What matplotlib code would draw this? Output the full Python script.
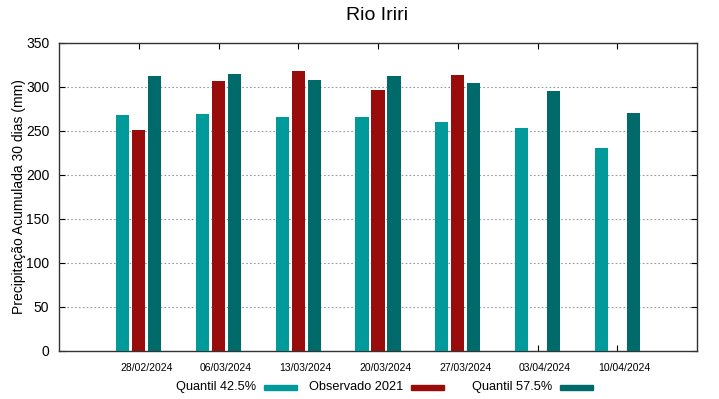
import matplotlib
matplotlib.use('Agg')
import matplotlib.pyplot as plt
from matplotlib.patches import Rectangle
import numpy as np

plt.rcParams['font.family'] = ['Liberation Sans', 'DejaVu Sans']

datas = ['28/02/2024', '06/03/2024', '13/03/2024', '20/03/2024',
         '27/03/2024', '03/04/2024', '10/04/2024']
q425 = [268, 269, 266, 266, 260, 253, 230]
obs2021 = [251, 307, 318, 297, 314, np.nan, np.nan]
q575 = [313, 315, 308, 313, 305, 295, 270]

labels = ['Quantil 42.5%', 'Observado 2021', 'Quantil 57.5%']
cores = ['#009a9a', '#990c0c', '#006a6a']

fig = plt.figure(figsize=(7.19, 3.99), dpi=100)
ax = fig.add_axes([59/719, 1 - 350.5/399, 638/719, 307.5/399])

x = np.arange(1, len(datas) + 1)
w = 0.165
for serie, off, cor in zip([q425, obs2021, q575], [-0.2, 0, 0.2], cores):
    ax.bar(x + off, serie, width=w, color=cor, zorder=3)

ax.set_xlim(0, 8)
ax.set_ylim(0, 350)
ax.set_yticks(np.arange(0, 351, 50))
# ticks nos centros dos grupos, rótulos um pouco à direita (como no gnuplot)
ax.set_xticks(x)
ax.set_xticklabels([])
ax.set_xticks(x + 0.094, minor=True)
ax.set_xticklabels(datas, minor=True, fontsize=7.5)
ax.tick_params(axis='x', which='minor', length=0, pad=9)
ax.tick_params(axis='y', labelsize=10, direction='in', length=4, right=True, pad=7)
ax.tick_params(axis='x', which='major', direction='in', length=4, top=True)
ax.grid(True, axis='y', linestyle=(0, (1.5, 2)), color='#999999', linewidth=0.8, zorder=0)
for s in ax.spines.values():
    s.set_linewidth(1.0)
    s.set_color('#333333')

ax.set_ylabel('Precipitação Acumulada 30 dias (mm)', fontsize=10, labelpad=0)
fig.text(377/719, 1 - 15/399, 'Rio Iriri', fontsize=14, ha='center', va='center')

# legenda manual (estilo gnuplot)
txt_right = [256, 403, 552]
for lab, cor, xr in zip(labels, cores, txt_right):
    fig.text(xr/719, 1 - 387/399, lab, fontsize=9.2, ha='right', va='center')
    fig.patches.append(Rectangle(((xr + 8)/719, 1 - 389.5/399), 33/719, 5/399,
                                 transform=fig.transFigure, color=cor, figure=fig))

fig.savefig('out.png', dpi=100)
